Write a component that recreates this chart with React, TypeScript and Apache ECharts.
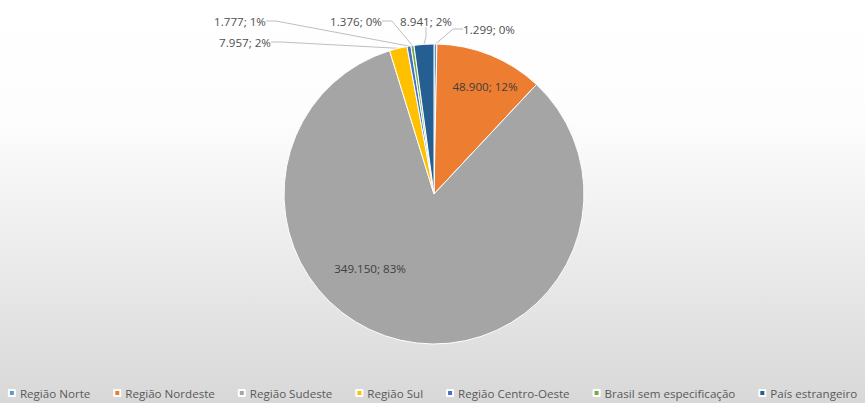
import React, { useEffect, useRef } from "react";
import * as echarts from "echarts";

const categories = [
  "Região Norte",
  "Região Nordeste",
  "Região Sudeste",
  "Região Sul",
  "Região Centro-Oeste",
  "Brasil sem especificação",
  "País estrangeiro",
];
const values = [1299, 48900, 349150, 7957, 1777, 1376, 8941];
const percentLabels = ["0%", "12%", "83%", "2%", "1%", "0%", "2%"];
const colors = ["#5B9BD5", "#ED7D31", "#A5A5A5", "#FFC000", "#4472C4", "#70AD47", "#255E91"];

// label layout (pixel placement of each data label, as in the reference)
const labelPlacement: { x: number; y: number }[] = [
  { x: 489, y: 29 },
  { x: 485, y: 86 },
  { x: 370, y: 268 },
  { x: 245, y: 42 },
  { x: 240, y: 21 },
  { x: 356, y: 21 },
  { x: 426, y: 21 },
];

const fmt = (v: number) => v.toString().replace(/\B(?=(\d{3})+(?!\d))/g, ".");

export default function App() {
  const ref = useRef<HTMLDivElement>(null);
  useEffect(() => {
    document.body.style.margin = "0";
    const chart = echarts.init(ref.current!, undefined, { renderer: "svg" });
    chart.setOption({
      animation: false,
      backgroundColor: {
        type: "linear",
        x: 0,
        y: 0,
        x2: 0,
        y2: 1,
        colorStops: [
          { offset: 0, color: "#ffffff" },
          { offset: 0.3, color: "#fdfdfd" },
          { offset: 1, color: "#d8d8d8" },
        ],
      },
      color: colors,
      legend: {
        top: 387,
        left: "center",
        padding: 0,
        itemWidth: 6,
        itemHeight: 6,
        itemGap: 23,
        icon: "rect",
        textStyle: { fontFamily: "Open Sans", fontSize: 11.6, color: "#595959" },
        data: categories,
      },
      series: [
        {
          type: "pie",
          center: [434, 194],
          radius: 150,
          startAngle: 90,
          clockwise: true,
          itemStyle: { borderColor: "#ffffff", borderWidth: 1 },
          label: {
            show: true,
            fontFamily: "Open Sans",
            fontSize: 11.6,
            color: "#505050",
            formatter: (p: any) => `${fmt(p.value)}; ${percentLabels[p.dataIndex]}`,
          },
          labelLine: {
            show: true,
            length: 10,
            length2: 10,
            lineStyle: { color: "#bfbfbf", width: 1 },
          },
          labelLayout: (p: any) => {
            const pos = labelPlacement[p.dataIndex];
            return { x: pos.x, y: pos.y, align: "center", verticalAlign: "middle" };
          },
          data: categories.map((name, i) => ({
            name,
            value: values[i],
            label: i === 1 || i === 2 ? { position: "inside", color: "#404040" } : { position: "outside" },
            labelLine: { show: !(i === 1 || i === 2) },
          })),
        },
      ],
    });
    return () => chart.dispose();
  }, []);
  return <div ref={ref} style={{ position: "absolute", left: 0, top: 0, width: 865, height: 403 }} />;
}
